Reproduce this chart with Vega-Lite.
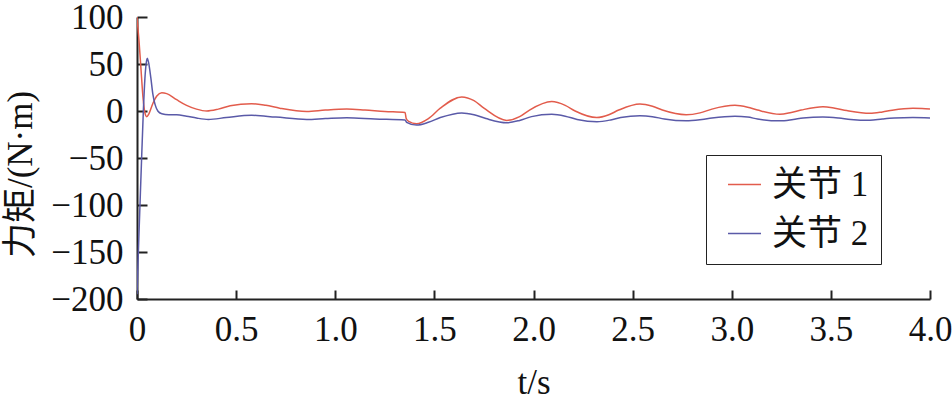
{
  "$schema": "https://vega.github.io/schema/vega-lite/v6.json",
  "autosize": "none",
  "width": 793,
  "height": 282,
  "padding": {"left": 137, "top": 17, "right": 22, "bottom": 100},
  "background": "white",
  "config": {
    "view": {"stroke": null},
    "font": "Liberation Serif, Noto Sans CJK SC",
    "axis": {
      "grid": false,
      "domainColor": "#222",
      "domainWidth": 2,
      "tickColor": "#222",
      "tickWidth": 2,
      "labelFont": "Liberation Serif",
      "labelFontSize": 35,
      "labelColor": "#111",
      "titleFont": "Liberation Serif, Noto Sans CJK SC",
      "titleFontSize": 35,
      "titleFontWeight": "normal",
      "titleColor": "#111"
    }
  },
  "datasets": {
    "d": [
      {"t": 0, "v": 100, "s": "关节 1"},
      {"t": 0.01, "v": 75, "s": "关节 1"},
      {"t": 0.02, "v": 45, "s": "关节 1"},
      {"t": 0.03, "v": 15, "s": "关节 1"},
      {"t": 0.04, "v": -2, "s": "关节 1"},
      {"t": 0.049, "v": -6, "s": "关节 1"},
      {"t": 0.06, "v": -3, "s": "关节 1"},
      {"t": 0.08, "v": 8, "s": "关节 1"},
      {"t": 0.1, "v": 16, "s": "关节 1"},
      {"t": 0.125, "v": 19.5, "s": "关节 1"},
      {"t": 0.15, "v": 18.5, "s": "关节 1"},
      {"t": 0.2, "v": 12, "s": "关节 1"},
      {"t": 0.25, "v": 6, "s": "关节 1"},
      {"t": 0.3, "v": 2, "s": "关节 1"},
      {"t": 0.352, "v": 0, "s": "关节 1"},
      {"t": 0.41, "v": 2, "s": "关节 1"},
      {"t": 0.47, "v": 5.5, "s": "关节 1"},
      {"t": 0.578, "v": 7.8, "s": "关节 1"},
      {"t": 0.65, "v": 6, "s": "关节 1"},
      {"t": 0.72, "v": 3, "s": "关节 1"},
      {"t": 0.856, "v": -0.5, "s": "关节 1"},
      {"t": 0.95, "v": 1, "s": "关节 1"},
      {"t": 1.058, "v": 2, "s": "关节 1"},
      {"t": 1.15, "v": 1, "s": "关节 1"},
      {"t": 1.25, "v": -0.5, "s": "关节 1"},
      {"t": 1.352, "v": -1.5, "s": "关节 1"},
      {"t": 1.358, "v": -8, "s": "关节 1"},
      {"t": 1.37, "v": -11, "s": "关节 1"},
      {"t": 1.41, "v": -13.5, "s": "关节 1"},
      {"t": 1.47, "v": -8, "s": "关节 1"},
      {"t": 1.53, "v": 3, "s": "关节 1"},
      {"t": 1.638, "v": 15, "s": "关节 1"},
      {"t": 1.7, "v": 11, "s": "关节 1"},
      {"t": 1.75, "v": 3, "s": "关节 1"},
      {"t": 1.865, "v": -10, "s": "关节 1"},
      {"t": 1.93, "v": -6, "s": "关节 1"},
      {"t": 1.98, "v": 1, "s": "关节 1"},
      {"t": 2.092, "v": 10, "s": "关节 1"},
      {"t": 2.16, "v": 6, "s": "关节 1"},
      {"t": 2.21, "v": 0, "s": "关节 1"},
      {"t": 2.319, "v": -7, "s": "关节 1"},
      {"t": 2.38, "v": -4, "s": "关节 1"},
      {"t": 2.43, "v": 1, "s": "关节 1"},
      {"t": 2.537, "v": 7.5, "s": "关节 1"},
      {"t": 2.6, "v": 5, "s": "关节 1"},
      {"t": 2.65, "v": 1, "s": "关节 1"},
      {"t": 2.77, "v": -4, "s": "关节 1"},
      {"t": 2.84, "v": -2, "s": "关节 1"},
      {"t": 2.9, "v": 2, "s": "关节 1"},
      {"t": 3.016, "v": 6, "s": "关节 1"},
      {"t": 3.08, "v": 4, "s": "关节 1"},
      {"t": 3.13, "v": 1, "s": "关节 1"},
      {"t": 3.243, "v": -3.5, "s": "关节 1"},
      {"t": 3.3, "v": -1.5, "s": "关节 1"},
      {"t": 3.35, "v": 1, "s": "关节 1"},
      {"t": 3.46, "v": 4.6, "s": "关节 1"},
      {"t": 3.52, "v": 3, "s": "关节 1"},
      {"t": 3.58, "v": 0.5, "s": "关节 1"},
      {"t": 3.697, "v": -2.5, "s": "关节 1"},
      {"t": 3.76, "v": -1, "s": "关节 1"},
      {"t": 3.81, "v": 0.8, "s": "关节 1"},
      {"t": 3.914, "v": 2.8, "s": "关节 1"},
      {"t": 3.96, "v": 2.6, "s": "关节 1"},
      {"t": 4.0, "v": 2.1, "s": "关节 1"},
      {"t": 0, "v": -195, "s": "关节 2"},
      {"t": 0.01, "v": -130, "s": "关节 2"},
      {"t": 0.02, "v": -70, "s": "关节 2"},
      {"t": 0.032, "v": 0, "s": "关节 2"},
      {"t": 0.04, "v": 35, "s": "关节 2"},
      {"t": 0.046, "v": 50, "s": "关节 2"},
      {"t": 0.052, "v": 56, "s": "关节 2"},
      {"t": 0.058, "v": 52, "s": "关节 2"},
      {"t": 0.07, "v": 35, "s": "关节 2"},
      {"t": 0.08, "v": 18, "s": "关节 2"},
      {"t": 0.091, "v": 7, "s": "关节 2"},
      {"t": 0.105, "v": 0, "s": "关节 2"},
      {"t": 0.125, "v": -3, "s": "关节 2"},
      {"t": 0.16, "v": -4, "s": "关节 2"},
      {"t": 0.2, "v": -4, "s": "关节 2"},
      {"t": 0.25, "v": -5.5, "s": "关节 2"},
      {"t": 0.3, "v": -7.5, "s": "关节 2"},
      {"t": 0.36, "v": -9, "s": "关节 2"},
      {"t": 0.45, "v": -7, "s": "关节 2"},
      {"t": 0.578, "v": -4.6, "s": "关节 2"},
      {"t": 0.7, "v": -6.5, "s": "关节 2"},
      {"t": 0.856, "v": -9, "s": "关节 2"},
      {"t": 0.95, "v": -8, "s": "关节 2"},
      {"t": 1.058, "v": -7.1, "s": "关节 2"},
      {"t": 1.2, "v": -8.5, "s": "关节 2"},
      {"t": 1.352, "v": -9.6, "s": "关节 2"},
      {"t": 1.36, "v": -12, "s": "关节 2"},
      {"t": 1.41, "v": -15, "s": "关节 2"},
      {"t": 1.47, "v": -12, "s": "关节 2"},
      {"t": 1.53, "v": -7, "s": "关节 2"},
      {"t": 1.638, "v": -2, "s": "关节 2"},
      {"t": 1.7, "v": -4, "s": "关节 2"},
      {"t": 1.76, "v": -8, "s": "关节 2"},
      {"t": 1.865, "v": -12.5, "s": "关节 2"},
      {"t": 1.93, "v": -10, "s": "关节 2"},
      {"t": 1.99, "v": -6, "s": "关节 2"},
      {"t": 2.092, "v": -3.5, "s": "关节 2"},
      {"t": 2.16, "v": -5.5, "s": "关节 2"},
      {"t": 2.22, "v": -9, "s": "关节 2"},
      {"t": 2.32, "v": -11.5, "s": "关节 2"},
      {"t": 2.39, "v": -9.5, "s": "关节 2"},
      {"t": 2.44, "v": -7, "s": "关节 2"},
      {"t": 2.537, "v": -5, "s": "关节 2"},
      {"t": 2.6, "v": -6, "s": "关节 2"},
      {"t": 2.66, "v": -8.5, "s": "关节 2"},
      {"t": 2.77, "v": -10.5, "s": "关节 2"},
      {"t": 2.85, "v": -9, "s": "关节 2"},
      {"t": 2.9, "v": -7.5, "s": "关节 2"},
      {"t": 3.016, "v": -5.7, "s": "关节 2"},
      {"t": 3.08, "v": -6.5, "s": "关节 2"},
      {"t": 3.13, "v": -8.5, "s": "关节 2"},
      {"t": 3.243, "v": -10.5, "s": "关节 2"},
      {"t": 3.31, "v": -9, "s": "关节 2"},
      {"t": 3.36, "v": -7.5, "s": "关节 2"},
      {"t": 3.46, "v": -6.4, "s": "关节 2"},
      {"t": 3.54, "v": -7.5, "s": "关节 2"},
      {"t": 3.6, "v": -9, "s": "关节 2"},
      {"t": 3.697, "v": -9.9, "s": "关节 2"},
      {"t": 3.76, "v": -8.5, "s": "关节 2"},
      {"t": 3.82, "v": -7.5, "s": "关节 2"},
      {"t": 3.914, "v": -7, "s": "关节 2"},
      {"t": 4.0, "v": -7.4, "s": "关节 2"}
    ]
  },
  "data": {"name": "d"},
  "mark": {"type": "line", "strokeWidth": 1.5, "interpolate": "monotone", "clip": true},
  "encoding": {
    "x": {
      "field": "t", "type": "quantitative",
      "scale": {"domain": [0, 4], "nice": false, "zero": false},
      "axis": {
        "title": "t/s",
        "values": [0, 0.5, 1, 1.5, 2, 2.5, 3, 3.5, 4],
        "labelExpr": "datum.value == 0 ? '0' : format(datum.value, '.1f')",
        "tickSize": -9,
        "labelPadding": 22,
        "titlePadding": 18,
        "labelFlush": false
      }
    },
    "y": {
      "field": "v", "type": "quantitative",
      "scale": {"domain": [-200, 100], "nice": false},
      "axis": {
        "title": "力矩/(N·m)",
        "values": [-200, -150, -100, -50, 0, 50, 100],
        "tickSize": -10,
        "labelPadding": 24,
        "titlePadding": 12,
        "titleY": 157,
        "labelFlush": false
      }
    },
    "color": {
      "field": "s", "type": "nominal",
      "scale": {"domain": ["关节 1", "关节 2"], "range": ["#e25c4c", "#5a5aa8"]},
      "legend": {
        "title": null,
        "orient": "none",
        "legendX": 569,
        "legendY": 138,
        "strokeColor": "#222",
        "fillColor": "white",
        "padding": 12,
        "symbolType": "stroke",
        "symbolSize": 1089,
        "symbolOffset": 9,
        "symbolStrokeWidth": 1.5,
        "labelFont": "Liberation Serif, Noto Sans CJK SC",
        "labelFontSize": 35,
        "labelColor": "#111",
        "labelOffset": 10,
        "labelExpr": "datum.label + '\u2009\u2009\u2009\u2009'",
        "rowPadding": 13,
        "labelLimit": 300
      }
    }
  }
}
